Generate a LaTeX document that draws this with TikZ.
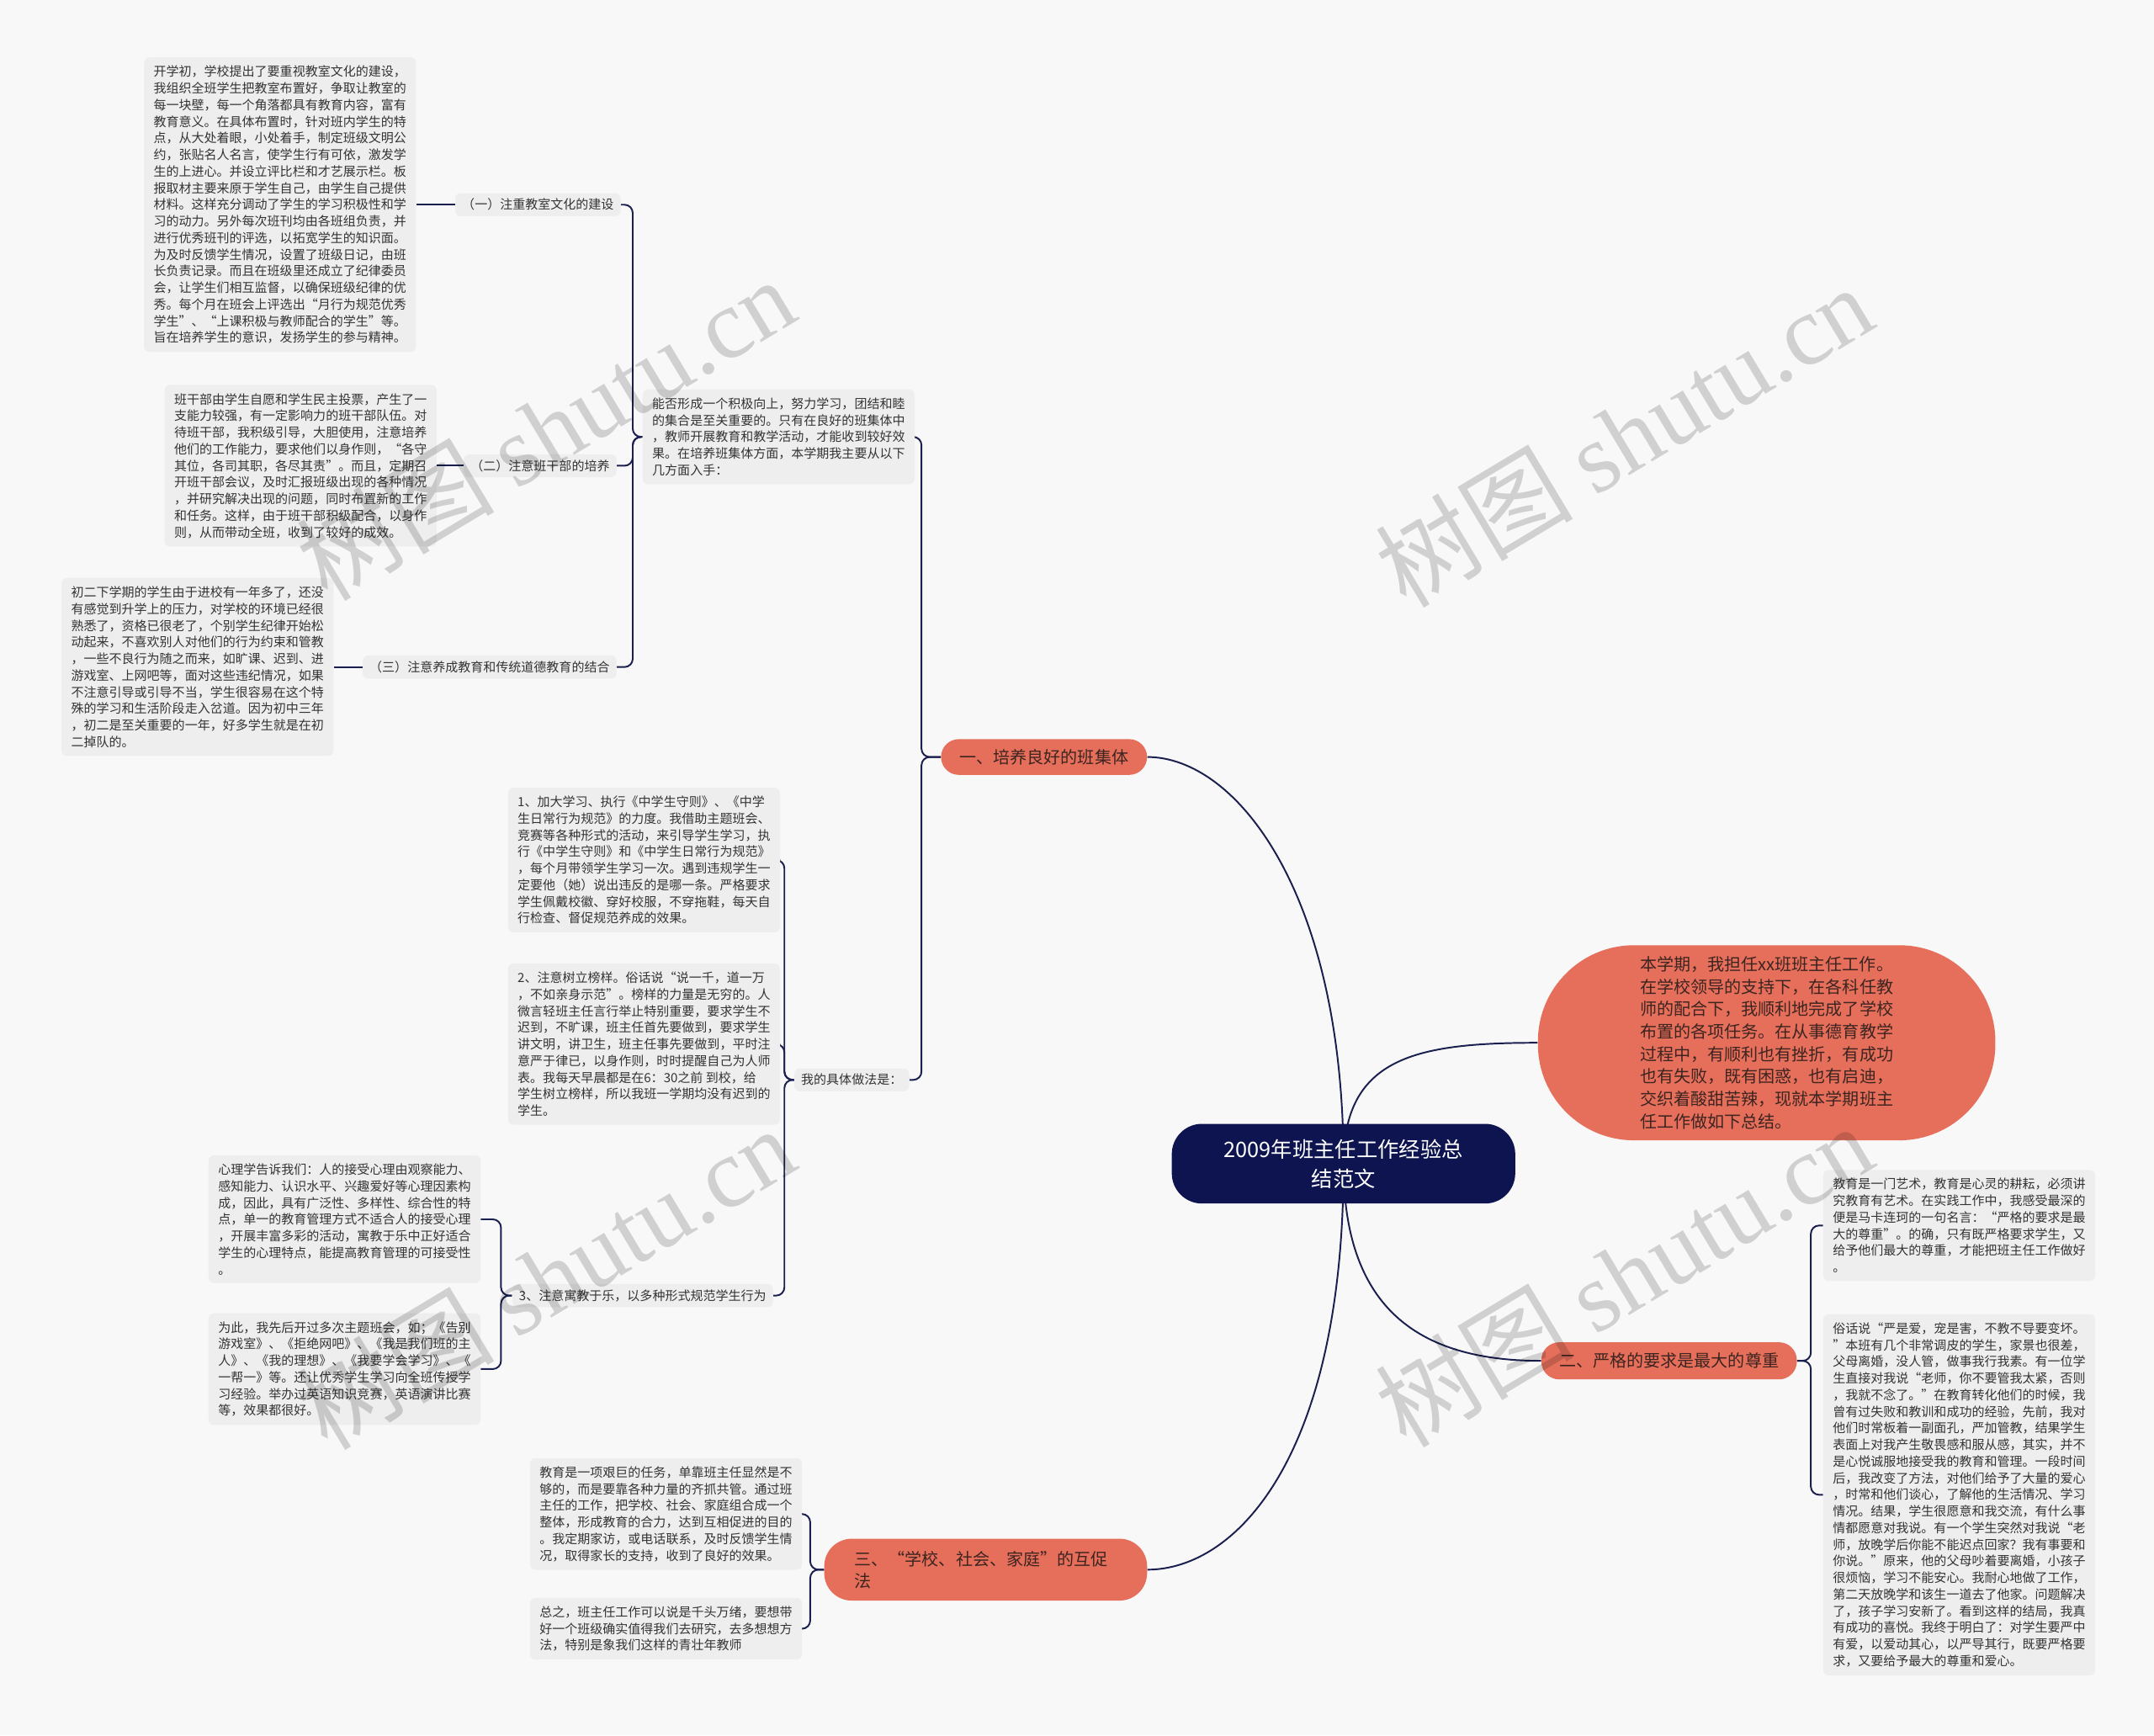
\documentclass[tikz,border=0pt]{standalone}
\usepackage{fontspec}
\setmainfont{Noto Sans CJK SC}
\newfontfamily\wmserif{Liberation Serif}
\pgfdeclarelayer{bgl}
\pgfdeclarelayer{edgel}
\pgfdeclarelayer{fgl}
\pgfsetlayers{bgl,edgel,main,fgl}
\definecolor{bgc}{HTML}{F8F8F8}
\definecolor{blockc}{HTML}{EEEEEE}
\definecolor{txtc}{HTML}{333333}
\definecolor{salmon}{HTML}{E66F5B}
\definecolor{topictxt}{HTML}{3C2420}
\definecolor{navyc}{HTML}{0D1450}
\definecolor{linec}{HTML}{1A1F4F}
\begin{document}
\begin{tikzpicture}[x=1pt,y=-1pt,
 blk/.style={fill=blockc, rounded corners=4pt, align=left, inner xsep=7pt, inner ysep=6pt, font=\fontsize{9.2}{12.1}\selectfont, text=txtc},
 lbl/.style={fill=blockc, rounded corners=4pt, inner xsep=5pt, inner ysep=4pt, font=\fontsize{9.2}{11}\selectfont, text=txtc},
 topic/.style={fill=salmon, rounded corners=13pt, font=\fontsize{12.3}{16}\selectfont, text=topictxt, inner sep=0pt},
 conn/.style={draw=linec, line width=1.2pt, rounded corners=6pt},
 curv/.style={draw=linec, line width=1.2pt},
 wm/.style={rotate=31, text=black, text opacity=0.16, font=\fontsize{72}{72}\selectfont}
]
\useasboundingbox (0,0) rectangle (1568,1263);
\begin{pgfonlayer}{bgl}
\fill[bgc] (0,0) rectangle (1568,1263);
\end{pgfonlayer}

% central
\node[fill=navyc, rounded corners=22pt, minimum width=250pt, minimum height=58pt, text=white, align=center, font=\fontsize{15.5}{21.5}\selectfont] (C0) at (978,847) {2009年班主任工作经验总\\结范文};

\node[topic, rounded corners=70pt, minimum width=333pt, minimum height=142pt, align=left, font=\fontsize{12.3}{16.3}\selectfont] (R) at (1286,759) {本学期，我担任xx班班主任工作。\\在学校领导的支持下，在各科任教\\师的配合下，我顺利地完成了学校\\布置的各项任务。在从事德育教学\\过程中，有顺利也有挫折，有成功\\也有失败，既有困惑，也有启迪，\\交织着酸甜苦辣，现就本学期班主\\任工作做如下总结。};

\node[topic, minimum width=150pt, minimum height=26pt] (n1) at (760,551) {一、培养良好的班集体};
\node[topic, minimum width=186pt, minimum height=27pt] (n2) at (1215,990.5) {二、严格的要求是最大的尊重};
\node[topic, rounded corners=20pt, minimum height=45pt, text width=191pt, inner xsep=22pt, align=left, font=\fontsize{12.3}{16}\selectfont] (n3) at (717.5,1142.5) {三、“学校、社会、家庭”的互促\\法};

% branch one
\node[blk, anchor=east] (D) at (666,318) {能否形成一个积极向上，努力学习，团结和睦\\的集合是至关重要的。只有在良好的班集体中\\，教师开展教育和教学活动，才能收到较好效\\果。在培养班集体方面，本学期我主要从以下\\几方面入手：};

\node[lbl, anchor=east] (lA) at (452,149) {（一）注重教室文化的建设};
\node[lbl, anchor=east] (lB) at (449,339) {（二）注意班干部的培养};
\node[lbl, anchor=east] (lC) at (449,485.5) {（三）注意养成教育和传统道德教育的结合};

\node[blk, anchor=east] (A) at (303,149) {开学初，学校提出了要重视教室文化的建设，\\我组织全班学生把教室布置好，争取让教室的\\每一块壁，每一个角落都具有教育内容，富有\\教育意义。在具体布置时，针对班内学生的特\\点，从大处着眼，小处着手，制定班级文明公\\约，张贴名人名言，使学生行有可依，激发学\\生的上进心。并设立评比栏和才艺展示栏。板\\报取材主要来原于学生自己，由学生自己提供\\材料。这样充分调动了学生的学习积极性和学\\习的动力。另外每次班刊均由各班组负责，并\\进行优秀班刊的评选，以拓宽学生的知识面。\\为及时反馈学生情况，设置了班级日记，由班\\长负责记录。而且在班级里还成立了纪律委员\\会，让学生们相互监督，以确保班级纪律的优\\秀。每个月在班会上评选出“月行为规范优秀\\学生”、“上课积极与教师配合的学生”等。\\旨在培养学生的意识，发扬学生的参与精神。};

\node[blk, anchor=east] (B) at (318,339) {班干部由学生自愿和学生民主投票，产生了一\\支能力较强，有一定影响力的班干部队伍。对\\待班干部，我积级引导，大胆使用，注意培养\\他们的工作能力，要求他们以身作则，“各守\\其位，各司其职，各尽其责”。而且，定期召\\开班干部会议，及时汇报班级出现的各种情况\\，并研究解决出现的问题，同时布置新的工作\\和任务。这样，由于班干部积级配合，以身作\\则，从而带动全班，收到了较好的成效。};

\node[blk, anchor=east] (C) at (243,485.5) {初二下学期的学生由于进校有一年多了，还没\\有感觉到升学上的压力，对学校的环境已经很\\熟悉了，资格已很老了，个别学生纪律开始松\\动起来，不喜欢别人对他们的行为约束和管教\\，一些不良行为随之而来，如旷课、迟到、进\\游戏室、上网吧等，面对这些违纪情况，如果\\不注意引导或引导不当，学生很容易在这个特\\殊的学习和生活阶段走入岔道。因为初中三年\\，初二是至关重要的一年，好多学生就是在初\\二掉队的。};

\node[lbl, anchor=east] (lDo) at (662,786) {我的具体做法是：};

\node[blk, anchor=east] (E) at (568,626) {1、加大学习、执行《中学生守则》、《中学\\生日常行为规范》的力度。我借助主题班会、\\竞赛等各种形式的活动，来引导学生学习，执\\行《中学生守则》和《中学生日常行为规范》\\，每个月带领学生学习一次。遇到违规学生一\\定要他（她）说出违反的是哪一条。严格要求\\学生佩戴校徽、穿好校服，不穿拖鞋，每天自\\行检查、督促规范养成的效果。};

\node[blk, anchor=east] (F) at (568,760) {2、注意树立榜样。俗话说“说一千，道一万\\，不如亲身示范”。榜样的力量是无穷的。人\\微言轻班主任言行举止特别重要，要求学生不\\迟到，不旷课，班主任首先要做到，要求学生\\讲文明，讲卫生，班主任事先要做到，平时注\\意严于律已，以身作则，时时提醒自己为人师\\表。我每天早晨都是在6：30之前 到校，给\\学生树立榜样，所以我班一学期均没有迟到的\\学生。};

\node[lbl, anchor=east] (l3) at (563,943) {3、注意寓教于乐，以多种形式规范学生行为};

\node[blk, anchor=east] (G) at (350,887.5) {心理学告诉我们：人的接受心理由观察能力、\\感知能力、认识水平、兴趣爱好等心理因素构\\成，因此，具有广泛性、多样性、综合性的特\\点，单一的教育管理方式不适合人的接受心理\\，开展丰富多彩的活动，寓教于乐中正好适合\\学生的心理特点，能提高教育管理的可接受性\\。};

\node[blk, anchor=east] (H) at (350,996.5) {为此，我先后开过多次主题班会，如；《告别\\游戏室》、《拒绝网吧》、《我是我们班的主\\人》、《我的理想》、《我要学会学习》、《\\一帮一》等。还让优秀学生学习向全班传授学\\习经验。举办过英语知识竞赛，英语演讲比赛\\等，效果都很好。};

% branch three
\node[blk, anchor=east] (I) at (584,1102) {教育是一项艰巨的任务，单靠班主任显然是不\\够的，而是要靠各种力量的齐抓共管。通过班\\主任的工作，把学校、社会、家庭组合成一个\\整体，形成教育的合力，达到互相促进的目的\\。我定期家访，或电话联系，及时反馈学生情\\况，取得家长的支持，收到了良好的效果。};

\node[blk, anchor=east] (J) at (584,1185.5) {总之，班主任工作可以说是千头万绪，要想带\\好一个班级确实值得我们去研究，去多想想方\\法，特别是象我们这样的青壮年教师};

% branch two
\node[blk, anchor=west] (K) at (1327,892) {教育是一门艺术，教育是心灵的耕耘，必须讲\\究教育有艺术。在实践工作中，我感受最深的\\便是马卡连珂的一句名言：“严格的要求是最\\大的尊重”。的确，只有既严格要求学生，又\\给予他们最大的尊重，才能把班主任工作做好\\。};

\node[blk, anchor=west] (L) at (1327,1088) {俗话说“严是爱，宠是害，不教不导要变坏。\\”本班有几个非常调皮的学生，家景也很差，\\父母离婚，没人管，做事我行我素。有一位学\\生直接对我说“老师，你不要管我太紧，否则\\，我就不念了。”在教育转化他们的时候，我\\曾有过失败和教训和成功的经验，先前，我对\\他们时常板着一副面孔，严加管教，结果学生\\表面上对我产生敬畏感和服从感，其实，并不\\是心悦诚服地接受我的教育和管理。一段时间\\后，我改变了方法，对他们给予了大量的爱心\\，时常和他们谈心，了解他的生活情况、学习\\情况。结果，学生很愿意和我交流，有什么事\\情都愿意对我说。有一个学生突然对我说“老\\师，放晚学后你能不能迟点回家？我有事要和\\你说。”原来，他的父母吵着要离婚，小孩子\\很烦恼，学习不能安心。我耐心地做了工作，\\第二天放晚学和该生一道去了他家。问题解决\\了，孩子学习安新了。看到这样的结局，我真\\有成功的喜悦。我终于明白了：对学生要严中\\有爱，以爱动其心，以严导其行，既要严格要\\求，又要给予最大的尊重和爱心。};

\begin{pgfonlayer}{edgel}
\draw[curv] (C0.center) .. controls (978,650) and (900,551) .. (n1.east);
\draw[curv] (C0.center) .. controls (978,770) and (1030,759) .. (R.west);
\draw[curv] (C0.center) .. controls (978,950) and (1030,990.5) .. (n2.west);
\draw[curv] (C0.center) .. controls (978,1060) and (900,1142.5) .. (n3.east);

\draw[conn] (n1.west) -- ++(-14,0) |- (D.east);
\draw[conn] (n1.west) -- ++(-14,0) |- (lDo.east);

\draw[conn] (D.west) -- ++(-7,0) |- (lA.east);
\draw[conn] (D.west) -- ++(-7,0) |- (lB.east);
\draw[conn] (D.west) -- ++(-7,0) |- (lC.east);
\draw[conn] (lA.west) -- (A.east);
\draw[conn] (lB.west) -- (B.east);
\draw[conn] (lC.west) -- (C.east);

\draw[conn] (lDo.west) -- ++(-7,0) |- (E.east);
\draw[conn] (lDo.west) -- ++(-7,0) |- (F.east);
\draw[conn] (lDo.west) -- ++(-7,0) |- (l3.east);

\draw[conn] (l3.west) -- ++(-8,0) |- (G.east);
\draw[conn] (l3.west) -- ++(-8,0) |- (H.east);

\draw[conn] (n3.west) -- ++(-10,0) |- (I.east);
\draw[conn] (n3.west) -- ++(-10,0) |- (J.east);

\draw[conn] (n2.east) -- ++(10,0) |- (K.west);
\draw[conn] (n2.east) -- ++(10,0) |- (L.west);
\end{pgfonlayer}

\begin{pgfonlayer}{fgl}
\node[wm] (w1) at (397,312) {树图 {\wmserif shutu.cn}};
\node[wm] (w2) at (1182,317) {树图 {\wmserif shutu.cn}};
\node[wm] (w3) at (397,930) {树图 {\wmserif shutu.cn}};
\node[wm] (w4) at (1182,928) {树图 {\wmserif shutu.cn}};
\end{pgfonlayer}
\end{tikzpicture}
\end{document}
